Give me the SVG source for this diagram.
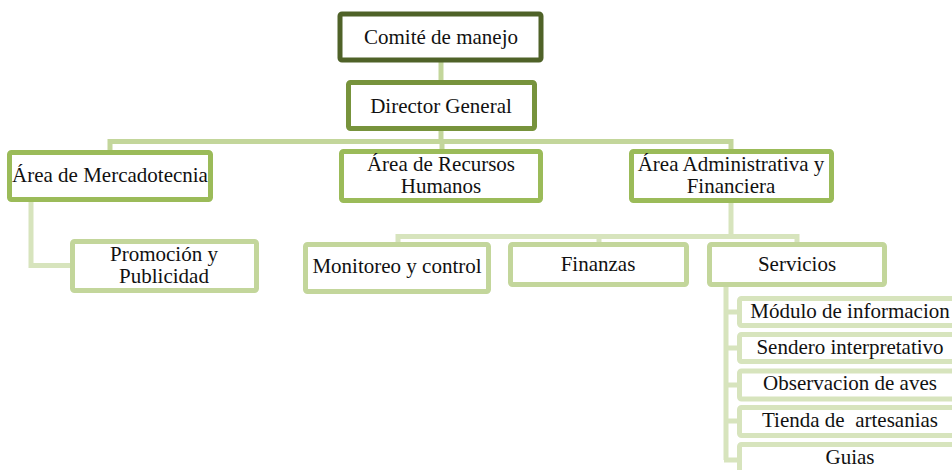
<svg xmlns="http://www.w3.org/2000/svg" width="952" height="470" viewBox="0 0 952 470">
<style>
.box{fill:#fff;stroke-width:5}
.l0{stroke:#4f6228}
.l1{stroke:#77933c}
.l2{stroke:#9bbb59}
.l3{stroke:#c3d69b}
.l4{stroke:#d7e4bd}
.c{fill:none;stroke-width:5;stroke-linejoin:miter}
.ca{stroke:#c3d69b}
.cb{stroke:#d7e4bd}
text{font-family:"Liberation Serif","Times New Roman",serif;font-size:21px;fill:#111;text-anchor:middle}
</style>
<rect width="952" height="470" fill="#fff"/>
<g id="connectors">
<path class="c ca" d="M441,62 V80"/>
<path class="c ca" d="M441,131 V141.5"/>
<path class="c ca" d="M110,150 V141.5 H731 V149"/>
<path class="c ca" d="M442,141.5 V149"/>
<path class="c cb" d="M31,202 V265.5 H70"/>
<path class="c cb" d="M731,203 V236.5"/>
<path class="c cb" d="M398,242 V236.5 H797 V242"/>
<path class="c cb" d="M599,236.5 V242"/>
<path class="c cb" d="M726,287 V460"/>
<path class="c cb" d="M724,312 H737 M724,348 H737 M724,385 H737 M724,421 H737 M724,460 H737"/>
</g>
<g id="n-comite"><rect class="box l0" x="340" y="14" width="201" height="46" rx="2"/><text x="441" y="44">Comité de manejo</text></g>
<g id="n-director"><rect class="box l1" x="348.5" y="82.5" width="186" height="46" rx="2"/><text x="441" y="113">Director General</text></g>
<g id="n-mercadotecnia"><rect class="box l2" x="9.5" y="152.5" width="201" height="47" rx="2"/><text x="110" y="182">Área de Mercadotecnia</text></g>
<g id="n-rrhh"><rect class="box l2" x="341.5" y="151.5" width="199" height="49" rx="2"/><text x="441" y="171">Área de Recursos<tspan x="441" dy="22">Humanos</tspan></text></g>
<g id="n-admin"><rect class="box l2" x="631.5" y="151.5" width="200" height="49" rx="2"/><text x="731" y="171">Área Administrativa y<tspan x="731" dy="22">Financiera</tspan></text></g>
<g id="n-promocion"><rect class="box l3" x="72.5" y="241.5" width="184" height="49" rx="2"/><text x="164" y="261">Promoción y<tspan x="164" dy="22">Publicidad</tspan></text></g>
<g id="n-monitoreo"><rect class="box l3" x="305.5" y="244.5" width="183" height="47" rx="2"/><text x="397" y="273">Monitoreo y control</text></g>
<g id="n-finanzas"><rect class="box l3" x="510.5" y="244.5" width="176" height="40" rx="2"/><text x="598" y="271">Finanzas</text></g>
<g id="n-servicios"><rect class="box l3" x="709.5" y="244.5" width="175" height="40" rx="2"/><text x="797" y="271">Servicios</text></g>
<g id="n-modulo"><rect class="box l4" x="739.5" y="298.5" width="225" height="27" rx="2"/><text x="850" y="318">Módulo de informacion</text></g>
<g id="n-sendero"><rect class="box l4" x="739.5" y="334.5" width="225" height="27" rx="2"/><text x="850" y="354">Sendero interpretativo</text></g>
<g id="n-observacion"><rect class="box l4" x="739.5" y="371" width="225" height="28" rx="2"/><text x="850" y="390">Observacion de aves</text></g>
<g id="n-tienda"><rect class="box l4" x="739.5" y="407.5" width="225" height="28" rx="2"/><text x="850" y="427" xml:space="preserve">Tienda de  artesanias</text></g>
<g id="n-guias"><rect class="box l4" x="739.5" y="444.5" width="225" height="32" rx="2"/><text x="850" y="464">Guias</text></g>
</svg>
